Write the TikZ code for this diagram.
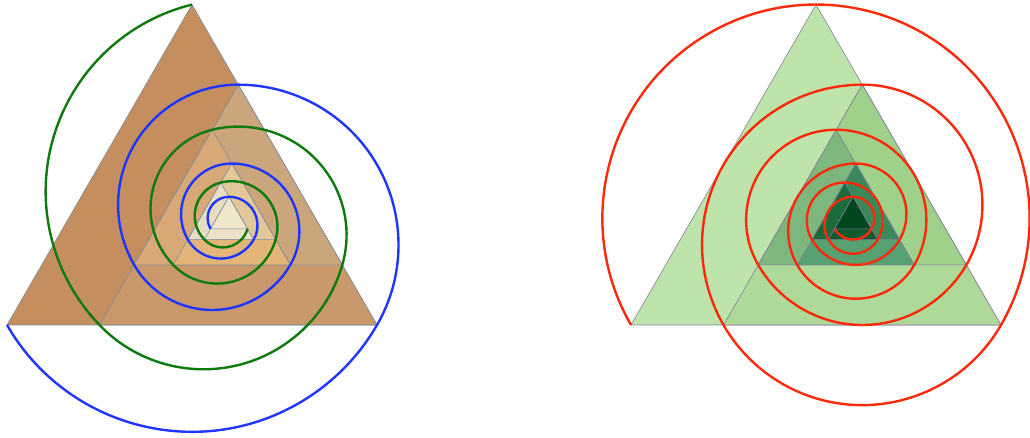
\documentclass[tikz,border=0pt]{standalone}
\usetikzlibrary{calc}
\definecolor{lb0}{HTML}{C48E5F}
\definecolor{lb1}{HTML}{C9996B}
\definecolor{lb2}{HTML}{CBA67D}
\definecolor{lb3}{HTML}{D8A877}
\definecolor{lb4}{HTML}{E3B578}
\definecolor{lb5}{HTML}{E2C799}
\definecolor{lb6}{HTML}{E8DDC3}
\definecolor{lb7}{HTML}{ECE2C8}
\definecolor{lb8}{HTML}{F0E6CB}
\definecolor{rg0}{HTML}{BEE3AB}
\definecolor{rg1}{HTML}{AED998}
\definecolor{rg2}{HTML}{A0D18B}
\definecolor{rg3}{HTML}{7EB77E}
\definecolor{rg4}{HTML}{57A071}
\definecolor{rg5}{HTML}{3A895A}
\definecolor{rg6}{HTML}{1C6B3C}
\definecolor{rg7}{HTML}{0E5A2F}
\definecolor{rg8}{HTML}{00461F}
\definecolor{edgeL}{HTML}{7F8C99}
\definecolor{edgeR}{HTML}{857FA0}
\definecolor{spgreen}{HTML}{0C7A0C}
\definecolor{spblue}{HTML}{1E36FF}
\definecolor{spred}{HTML}{FA2A0A}
\tikzset{
  piece/.style={line width=0.6pt, line join=round},
  spiralline/.style={line width=2.4pt}
}
\begin{document}
\begin{tikzpicture}[x=1pt,y=1pt]
\useasboundingbox (0,0) rectangle (1030,438);
% ---------- left figure ----------
\begin{scope}[shift={(7pt,113pt)}, x=370pt, y=370pt]
  \coordinate (Lz) at (0.594595,0.280873);
  \foreach \n in {0,...,10} {
    \coordinate (Lw\n) at ($(Lz)+({205.285+120*\n}:{0.657597*0.75^\n})$);
    \coordinate (Lc\n) at ($(Lz)+({99.183+120*\n}:{0.592749*0.75^\n})$);
  }
  \foreach \n [evaluate=\n as \m using int(\n+1)] in {0,...,8}
    \filldraw[piece, draw=edgeL, fill=lb\n] (Lw\n) -- (Lw\m) -- (Lc\n) -- cycle;
  \draw[spiralline, spgreen] (Lc0)
    \foreach \n [evaluate=\n as \sa using 103.898+120*\n,
                 evaluate=\n as \ea using 223.898+120*\n,
                 evaluate=\n as \rr using 0.520416*0.75^\n] in {0,...,7}
      { arc[start angle=\sa, end angle=\ea, radius=\rr] };
  \draw[spiralline, spblue] (Lw0)
    \foreach \n [evaluate=\n as \sa using 210+120*\n,
                 evaluate=\n as \ea using 330+120*\n,
                 evaluate=\n as \rr using 0.57735*0.75^\n] in {0,...,8}
      { arc[start angle=\sa, end angle=\ea, radius=\rr] };
\end{scope}
% ---------- right figure ----------
\begin{scope}[shift={(631pt,113pt)}, x=370pt, y=370pt]
  \coordinate (Rz) at (0.594595,0.280873);
  \foreach \n in {0,...,10} {
    \coordinate (Rw\n) at ($(Rz)+({205.285+120*\n}:{0.657597*0.75^\n})$);
    \coordinate (Rc\n) at ($(Rz)+({99.183+120*\n}:{0.592749*0.75^\n})$);
  }
  \foreach \n [evaluate=\n as \m using int(\n+1)] in {0,...,8}
    \filldraw[piece, draw=edgeR, fill=rg\n] (Rw\n) -- (Rw\m) -- (Rc\n) -- cycle;
  \draw[spiralline, spred] (Rw0)
    \foreach \n [evaluate=\n as \sa using 210+120*\n,
                 evaluate=\n as \ea using -30+120*\n,
                 evaluate=\n as \rr using 0.57735*0.75^\n] in {0,...,8}
      { arc[start angle=\sa, end angle=\ea, radius=\rr] };
\end{scope}
\end{tikzpicture}
\end{document}
